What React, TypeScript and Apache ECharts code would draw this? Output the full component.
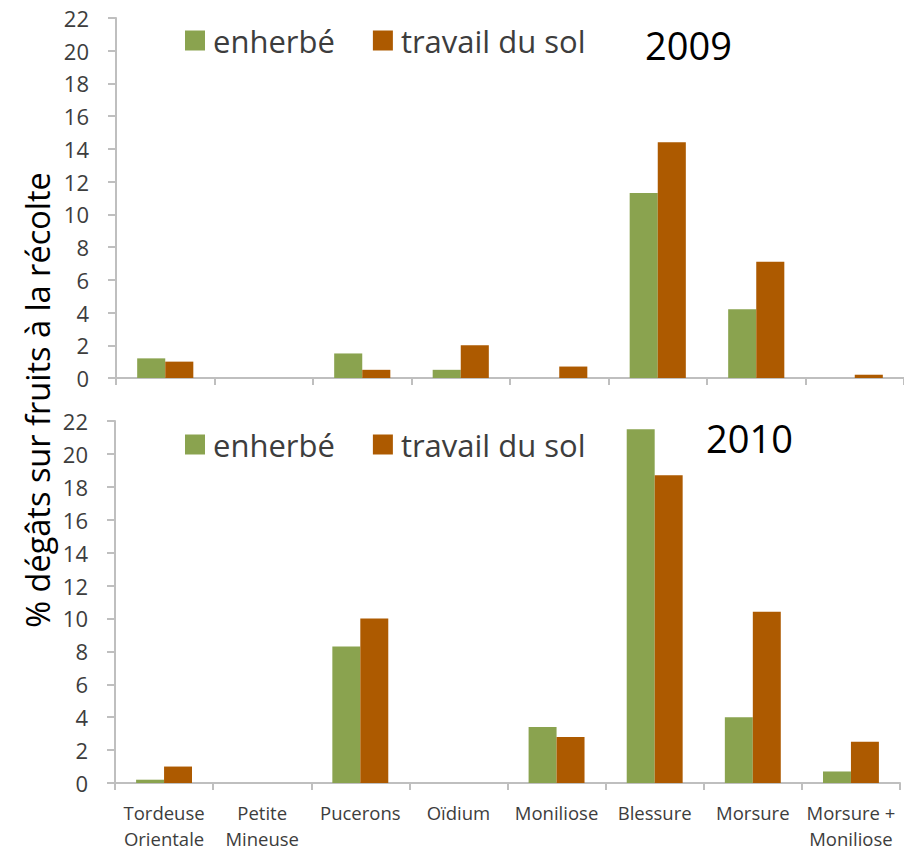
import React, { useEffect, useRef } from "react";
import * as echarts from "echarts";

const categories = [
  "Tordeuse\nOrientale",
  "Petite\nMineuse",
  "Pucerons",
  "Oïdium",
  "Moniliose",
  "Blessure",
  "Morsure",
  "Morsure +\nMoniliose",
];
const enherbe2009 = [1.2, 0, 1.5, 0.5, 0, 11.3, 4.2, 0];
const travail2009 = [1.0, 0, 0.5, 2.0, 0.7, 14.4, 7.1, 0.2];
const enherbe2010 = [0.2, 0, 8.3, 0, 3.4, 21.5, 4.0, 0.7];
const travail2010 = [1.0, 0, 10.0, 0, 2.8, 18.7, 10.4, 2.5];
const seriesNames = ["enherbé", "travail du sol"];
const years = ["2009", "2010"];
const yTitle = "% dégâts sur fruits à la récolte";

const GREEN = "#8aa34f";
const ORANGE = "#ad5a00";
const AXIS = "#bfbfbf";
const TXT = "#3d3d3d";
const FONT = "'Open Sans', 'Noto Sans', sans-serif";

export default function App() {
  const ref = useRef<HTMLDivElement>(null);
  useEffect(() => {
    if (!ref.current) return;
    const chart = echarts.init(ref.current, undefined, { renderer: "svg" });
    const yAxisBase = (gridIndex: number) => ({
      type: "value",
      gridIndex,
      min: 0,
      max: 22,
      interval: 2,
      axisLine: { show: true, lineStyle: { color: AXIS, width: 2 } },
      axisTick: { show: true, length: 8, lineStyle: { color: AXIS, width: 2 } },
      splitLine: { show: false },
      axisLabel: { color: TXT, fontSize: 22, fontFamily: FONT, margin: 27 },
    });
    const xAxisBase = (gridIndex: number, showLabels: boolean) => ({
      type: "category",
      gridIndex,
      data: categories,
      axisLine: { show: true, lineStyle: { color: AXIS, width: 2 } },
      axisTick: { show: true, length: 7, lineStyle: { color: AXIS, width: 2 } },
      axisLabel: {
        show: showLabels,
        interval: 0,
        color: TXT,
        fontSize: 18.5,
        fontFamily: FONT,
        lineHeight: 25.5,
        margin: 17,
      },
    });
    const barBase = {
      type: "bar",
      barGap: "0%",
      barCategoryGap: "43%",
    };
    const legendBase = (top: number) => ({
      top,
      left: 180,
      itemWidth: 20,
      itemHeight: 20,
      itemGap: 38,
      icon: "rect",
      textStyle: { color: TXT, fontSize: 31, fontFamily: FONT, padding: [0, 0, 0, 3] },
      data: seriesNames,
      selectedMode: false,
    });
    chart.setOption({
      animation: false,
      backgroundColor: "#ffffff",
      grid: [
        { left: 116, right: 0, top: 18, height: 360, outerBoundsMode: "none", containLabel: false },
        { left: 115, right: 4, top: 421, height: 362, outerBoundsMode: "none", containLabel: false },
      ],
      legend: [legendBase(20), legendBase(424)],
      xAxis: [xAxisBase(0, false), xAxisBase(1, true)],
      yAxis: [yAxisBase(0), yAxisBase(1)],
      series: [
        { ...barBase, name: seriesNames[0], xAxisIndex: 0, yAxisIndex: 0, data: enherbe2009, itemStyle: { color: GREEN } },
        { ...barBase, name: seriesNames[1], xAxisIndex: 0, yAxisIndex: 0, data: travail2009, itemStyle: { color: ORANGE } },
        { ...barBase, name: seriesNames[0], xAxisIndex: 1, yAxisIndex: 1, data: enherbe2010, itemStyle: { color: GREEN } },
        { ...barBase, name: seriesNames[1], xAxisIndex: 1, yAxisIndex: 1, data: travail2010, itemStyle: { color: ORANGE } },
      ],
      graphic: [
        {
          type: "text",
          left: 645,
          top: 26,
          z: 101,
          style: { text: years[0], fill: "#000", fontSize: 38, fontFamily: FONT },
        },
        {
          type: "text",
          left: 706,
          top: 419,
          z: 101,
          style: { text: years[1], fill: "#000", fontSize: 38, fontFamily: FONT },
        },
        {
          type: "text",
          x: 37,
          y: 400,
          rotation: Math.PI / 2,
          style: {
            text: yTitle,
            fill: "#000",
            fontSize: 32.5,
            fontFamily: FONT,
            align: "center",
            verticalAlign: "middle",
          },
        },
      ],
    });
    return () => chart.dispose();
  }, []);
  return (
    <div
      ref={ref}
      style={{ position: "absolute", left: 0, top: 0, width: 904, height: 852 }}
    />
  );
}
